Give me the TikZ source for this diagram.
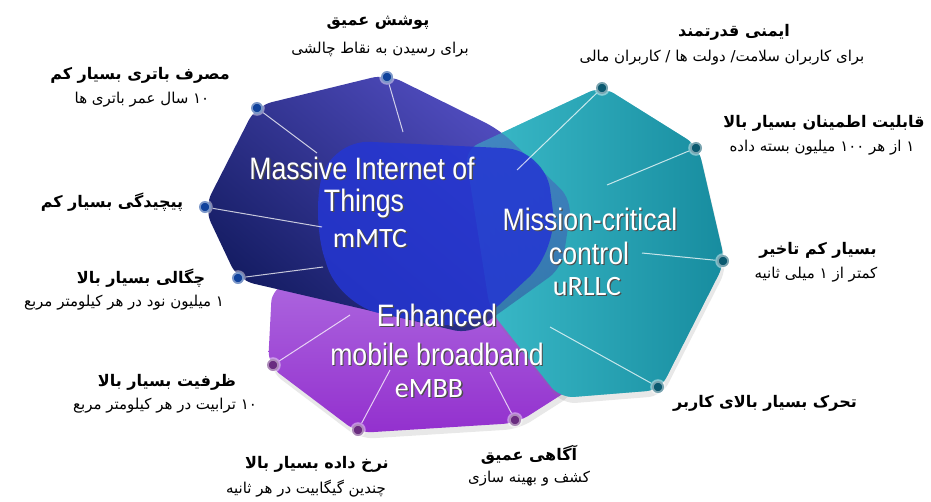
\documentclass[tikz,border=0pt]{standalone}
\usepackage{fontspec}
\usetikzlibrary{shadows}
\TeXXeTstate=1
\newfontfamily\fafont[Script=Arabic]{DejaVu Sans}
\newfontfamily\condfont{Liberation Sans}
\newfontfamily\calfont{Carlito}

\definecolor{navy}{HTML}{141C62}
\definecolor{violetblue}{HTML}{5550C6}
\definecolor{brightblue}{HTML}{2436D2}
\definecolor{tealA}{HTML}{3CBCCA}
\definecolor{tealB}{HTML}{178C9F}
\definecolor{purpA}{HTML}{B272E2}
\definecolor{purpB}{HTML}{9330CE}
\definecolor{bluedot}{HTML}{10429C}
\definecolor{tealdot}{HTML}{0C5A70}
\definecolor{purpdot}{HTML}{6A2C80}

\newcommand{\rtl}[1]{\beginR #1\endR}
\newcommand{\shadowed}[1]{\makebox[0pt][l]{\hspace{1.3pt}\raisebox{-1.3pt}{\color{black!70}#1}}#1}

\tikzset{
  headtxt/.style={font=\fafont\bfseries\fontsize{16}{18}\selectfont, inner sep=0pt},
  subtxt/.style={font=\fafont\fontsize{15}{17}\selectfont, inner sep=0pt},
  titletxt/.style={text=white, font=\condfont\fontsize{31}{33}\selectfont, inner sep=0pt},
  tagtxt/.style={text=white, font=\calfont\fontsize{28}{30}\selectfont, inner sep=0pt},
  hub/.style={circle, inner sep=0pt, minimum size=12pt, draw=white, draw opacity=0.45, line width=3.5pt},
  spoke/.style={white, opacity=0.75, line width=1pt},
  softshadow/.style={drop shadow={opacity=0.18, shadow xshift=2pt, shadow yshift=-6pt}}
}

\begin{document}
\begin{tikzpicture}[x=1pt, y=-1pt]
  \useasboundingbox (0,0) rectangle (931,501);

  % Areas
  \shade[top color=purpA, bottom color=purpB, rounded corners=14pt, softshadow]
    (430,245) -- (580,300) -- (572,388) -- (517,423) -- (358,433) -- (268,365) -- (272,288) -- cycle;
  \shade[left color=tealA, right color=tealB, rounded corners=14pt, softshadow]
    (602,86) -- (698,146) -- (725,262) -- (660,390) -- (560,398) -- (490,310) -- (465,150) -- cycle;
  \shade[top color=violetblue, bottom color=navy, shading angle=-40, rounded corners=16pt]
    (387,74) -- (500,130) -- (572,200) -- (562,268) -- (470,334) -- (380,313) -- (238,280) -- (204,208) -- (256,106) -- cycle;
  \shade[left color=tealA, right color=tealB, rounded corners=14pt, opacity=0.55]
    (602,86) -- (698,146) -- (725,262) -- (660,390) -- (560,398) -- (490,310) -- (465,150) -- cycle;
  \fill[brightblue, opacity=0.85, rounded corners=40pt]
    (330,140) -- (545,150) -- (558,250) -- (470,332) -- (340,305) -- (312,220) -- cycle;

  % Nodes
  \node[hub, fill=bluedot] (m1) at (387,77) {};
  \node[hub, fill=bluedot] (m2) at (257,108) {};
  \node[hub, fill=bluedot] (m3) at (205,207) {};
  \node[hub, fill=bluedot] (m4) at (238,278) {};
  \node[hub, fill=tealdot] (u1) at (602,88) {};
  \node[hub, fill=tealdot] (u2) at (696,148) {};
  \node[hub, fill=tealdot] (u3) at (723,261) {};
  \node[hub, fill=tealdot] (u4) at (658,387) {};
  \node[hub, fill=purpdot] (e1) at (273,365) {};
  \node[hub, fill=purpdot] (e2) at (358,430) {};
  \node[hub, fill=purpdot] (e3) at (515,420) {};

  \coordinate (m1in) at (403,132);
  \coordinate (m2in) at (317,153);
  \coordinate (m3in) at (322,227);
  \coordinate (m4in) at (323,267);
  \coordinate (u1in) at (517,170);
  \coordinate (u2in) at (607,185);
  \coordinate (u3in) at (642,253);
  \coordinate (u4in) at (550,327);
  \coordinate (e1in) at (350,315);
  \coordinate (e2in) at (390,370);
  \coordinate (e3in) at (490,372);

  % Edges
  \draw[spoke] (m1) -- (m1in);
  \draw[spoke] (m2) -- (m2in);
  \draw[spoke] (m3) -- (m3in);
  \draw[spoke] (m4) -- (m4in);
  \draw[spoke] (u1) -- (u1in);
  \draw[spoke] (u2) -- (u2in);
  \draw[spoke] (u3) -- (u3in);
  \draw[spoke] (u4) -- (u4in);
  \draw[spoke] (e1) -- (e1in);
  \draw[spoke] (e2) -- (e2in);
  \draw[spoke] (e3) -- (e3in);

  % Titles
  \node[titletxt] (mmtc1) at (362,169) {\scalebox{0.86}[1]{\shadowed{Massive Internet of}}};
  \node[titletxt] (mmtc2) at (364,204) {\scalebox{0.86}[1]{\shadowed{Things}}};
  \node[tagtxt] (mmtc3) at (370,239) {\shadowed{mMTC}};
  \node[titletxt] (urllc1) at (590,220) {\scalebox{0.86}[1]{\shadowed{Mission-critical}}};
  \node[titletxt] (urllc2) at (589,254) {\scalebox{0.86}[1]{\shadowed{control}}};
  \node[tagtxt] (urllc3) at (587,287) {\shadowed{uRLLC}};
  \node[titletxt] (embb1) at (437,316) {\scalebox{0.86}[1]{\shadowed{Enhanced}}};
  \node[titletxt] (embb2) at (437,355) {\scalebox{0.86}[1]{\shadowed{mobile broadband}}};
  \node[tagtxt] (embb3) at (429,389) {\shadowed{eMBB}};

  % Labels
  \node[headtxt] (cov) at (378,23) {\rtl{پوشش عمیق}};
  \node[subtxt] (covs) at (380,50) {\rtl{برای رسیدن به نقاط چالشی}};
  \node[headtxt] (bat) at (140,75) {\rtl{مصرف باتری بسیار کم}};
  \node[subtxt] (bats) at (142,100) {\rtl{۱۰ سال عمر باتری ها}};
  \node[headtxt] (cpx) at (112,202) {\rtl{پیچیدگی بسیار کم}};
  \node[headtxt] (dens) at (141,278) {\rtl{چگالی بسیار بالا}};
  \node[subtxt] (denss) at (124,303) {\rtl{۱ میلیون نود در هر کیلومتر مربع}};
  \node[headtxt] (cap) at (167,382) {\rtl{ظرفیت بسیار بالا}};
  \node[subtxt] (caps) at (165,406) {\rtl{۱۰ ترابیت در هر کیلومتر مربع}};
  \node[headtxt] (rate) at (317,464) {\rtl{نرخ داده بسیار بالا}};
  \node[subtxt] (rates) at (306,489) {\rtl{چندین گیگابیت در هر ثانیه}};
  \node[headtxt] (aware) at (529,455) {\rtl{آگاهی عمیق}};
  \node[subtxt] (awares) at (529,479) {\rtl{کشف و بهینه سازی}};
  \node[headtxt] (mob) at (765,403) {\rtl{تحرک بسیار بالای کاربر}};
  \node[headtxt] (lat) at (818,250) {\rtl{بسیار کم تاخیر}};
  \node[subtxt] (lats) at (816,275) {\rtl{کمتر از ۱ میلی ثانیه}};
  \node[headtxt] (rel) at (824,123) {\rtl{قابلیت اطمینان بسیار بالا}};
  \node[subtxt] (rels) at (822,148) {\rtl{۱ از هر ۱۰۰ میلیون بسته داده}};
  \node[headtxt] (sec) at (734,32) {\rtl{ایمنی قدرتمند}};
  \node[subtxt] (secs) at (722,58) {\rtl{برای کاربران سلامت/ دولت ها / کاربران مالی}};

\end{tikzpicture}
\end{document}
